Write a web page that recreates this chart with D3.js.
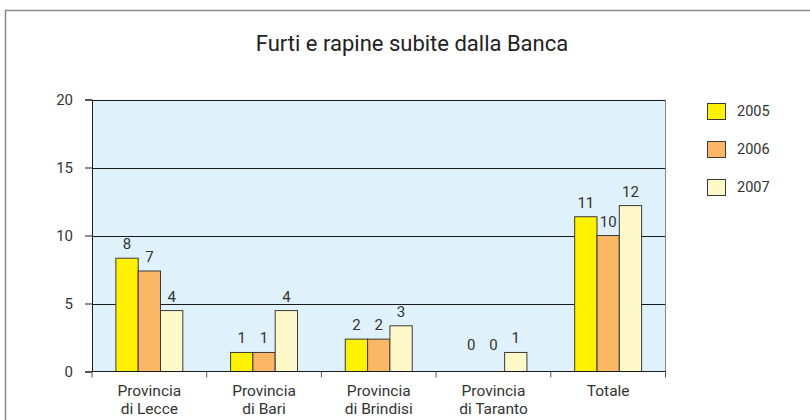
<!DOCTYPE html>
<html>
<head>
<meta charset="utf-8">
<script src="https://cdn.jsdelivr.net/npm/d3@7"></script>
<style>
  body { margin: 0; background: #fff; }
  svg { display: block; font-family: Roboto, "DejaVu Sans", sans-serif; }
</style>
</head>
<body>
<div id="chart"></div>
<script>
// Data
const categories = [['Provincia', 'di Lecce'], ['Provincia', 'di Bari'], ['Provincia', 'di Brindisi'], ['Provincia', 'di Taranto'], ['Totale']];
const years = ['2005', '2006', '2007'];
// bar heights as drawn in the original picture
const values2005 = [8.33, 1.4, 2.38, 0, 11.38];
const values2006 = [7.39, 1.4, 2.38, 0, 10.0];
const values2007 = [4.48, 4.48, 3.36, 1.4, 12.2];
// printed labels
const labels2005 = ['8', '1', '2', '0', '11'];
const labels2006 = ['7', '1', '2', '0', '10'];
const labels2007 = ['4', '4', '3', '1', '12'];
const yTicks = [0, 5, 10, 15, 20];

const colors = ['#fff200', '#fbb666', '#fff8c9'];
const seriesValues = [values2005, values2006, values2007];
const seriesLabels = [labels2005, labels2006, labels2007];

const width = 810, height = 420;
const plot = { left: 92, right: 665.5, top: 99.5, bottom: 371.5 };

const svg = d3.select('#chart').append('svg')
  .attr('width', width)
  .attr('height', height);

// outer frame
svg.append('path')
  .attr('d', `M5.5,${height} V10.5 H${width}`)
  .attr('fill', 'none')
  .attr('stroke', '#8a8a8a')
  .attr('stroke-width', 1.5);

// title
svg.append('text')
  .attr('x', 412)
  .attr('y', 51)
  .attr('text-anchor', 'middle')
  .style('font-size', '22px')
  .style('fill', '#222')
  .text('Furti e rapine subite dalla Banca');

// scales
const x0 = d3.scaleBand()
  .domain(d3.range(categories.length))
  .range([plot.left, plot.right])
  .paddingInner(0)
  .paddingOuter(0);

const x1 = d3.scaleBand()
  .domain(d3.range(years.length))
  .range([0, x0.bandwidth()])
  .paddingOuter(1.07)
  .paddingInner(0);

const y = d3.scaleLinear()
  .domain([0, 20])
  .range([plot.bottom, plot.top]);

// background
svg.append('rect')
  .attr('x', plot.left)
  .attr('y', plot.top)
  .attr('width', plot.right - plot.left)
  .attr('height', plot.bottom - plot.top)
  .attr('fill', '#dff1fb');

// grid lines
svg.append('g')
  .selectAll('line')
  .data(yTicks.filter(d => d > 0))
  .join('line')
  .attr('x1', plot.left)
  .attr('x2', plot.right)
  .attr('y1', d => Math.round(y(d)) + 0.5)
  .attr('y2', d => Math.round(y(d)) + 0.5)
  .attr('stroke', '#1a1a1a')
  .attr('stroke-width', 1);

// right border of plot area
svg.append('line')
  .attr('x1', plot.right).attr('x2', plot.right)
  .attr('y1', plot.top).attr('y2', plot.bottom)
  .attr('stroke', '#888')
  .attr('stroke-width', 1);

// y axis
const yAxis = d3.axisLeft(y)
  .tickValues(yTicks)
  .tickSize(7)
  .tickPadding(12);

const yAxisG = svg.append('g')
  .attr('transform', `translate(${plot.left},0)`)
  .call(yAxis);
yAxisG.select('.domain').attr('stroke', '#1a1a1a');
yAxisG.selectAll('.tick line').attr('stroke', '#1a1a1a');
yAxisG.selectAll('.tick text')
  .style('font-size', '15px')
  .style('font-family', 'Roboto, sans-serif')
  .attr('fill', '#333');

// bars
const groups = svg.append('g')
  .selectAll('g')
  .data(categories.map((c, i) => i))
  .join('g')
  .attr('transform', i => `translate(${x0(i)},0)`);

groups.selectAll('rect')
  .data(i => years.map((yr, s) => ({ s, v: seriesValues[s][i], label: seriesLabels[s][i] })))
  .join('rect')
  .filter(d => d.v > 0)
  .attr('x', d => x1(d.s))
  .attr('y', d => y(d.v))
  .attr('width', x1.bandwidth())
  .attr('height', d => y(0) - y(d.v))
  .attr('fill', d => colors[d.s])
  .attr('stroke', '#3a3a3a')
  .attr('stroke-width', 1);

groups.selectAll('text.val')
  .data(i => years.map((yr, s) => ({ s, v: seriesValues[s][i], label: seriesLabels[s][i] })))
  .join('text')
  .attr('class', 'val')
  .attr('x', d => x1(d.s) + x1.bandwidth() / 2)
  .attr('y', d => y(Math.max(d.v, 0.9)) - 9)
  .attr('text-anchor', 'middle')
  .style('font-size', '15px')
  .attr('fill', '#333')
  .text(d => d.label);

// x axis
const xAxisG = svg.append('g')
  .attr('transform', `translate(0,${plot.bottom})`);

xAxisG.append('line')
  .attr('x1', plot.left).attr('x2', plot.right)
  .attr('y1', 0).attr('y2', 0)
  .attr('stroke', '#1a1a1a');

xAxisG.selectAll('line.tick')
  .data(d3.range(categories.length + 1))
  .join('line')
  .attr('class', 'tick')
  .attr('x1', i => i < categories.length ? x0(i) : plot.right)
  .attr('x2', i => i < categories.length ? x0(i) : plot.right)
  .attr('y1', 0)
  .attr('y2', 6)
  .attr('stroke', '#555');

xAxisG.selectAll('text')
  .data(categories)
  .join('text')
  .attr('x', (d, i) => x0(i) + x0.bandwidth() / 2)
  .attr('y', 24)
  .attr('text-anchor', 'middle')
  .style('font-size', '15.5px')
  .attr('fill', '#333')
  .selectAll('tspan')
  .data(d => d)
  .join('tspan')
  .attr('x', function() { return this.parentNode.getAttribute('x'); })
  .attr('dy', (d, j) => j === 0 ? 0 : 18)
  .text(d => d);

// legend
const legend = svg.append('g')
  .attr('transform', 'translate(707,103)');

const items = legend.selectAll('g')
  .data(years)
  .join('g')
  .attr('transform', (d, i) => `translate(0,${i * 38})`);

items.append('rect')
  .attr('x', 0.5).attr('y', 0.5)
  .attr('width', 18).attr('height', 16)
  .attr('fill', (d, i) => colors[i])
  .attr('stroke', '#3a3a3a');

items.append('text')
  .attr('x', 30)
  .attr('y', 13)
  .style('font-size', '14.5px')
  .attr('fill', '#333')
  .text(d => d);
</script>
</body>
</html>
